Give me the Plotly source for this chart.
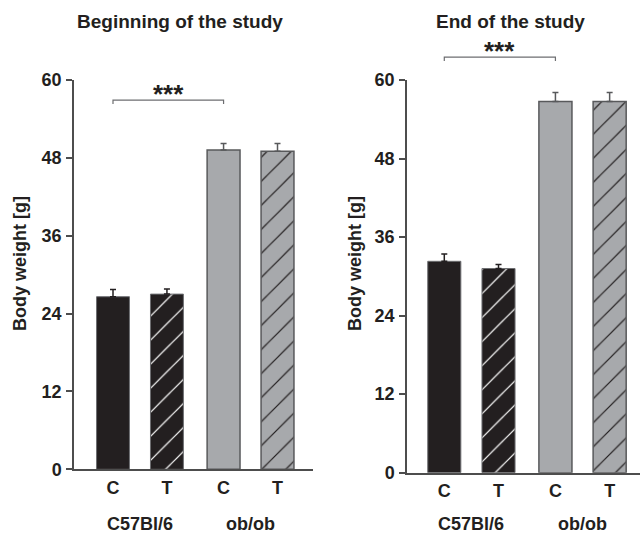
import plotly.graph_objects as go

# ---- data ----
bar_labels = ["C", "T", "C", "T"]
groups = ["C57Bl/6", "ob/ob"]
begin_mean = [26.6, 27.0, 49.2, 49.0]
begin_err = [1.1, 0.8, 1.0, 1.2]
end_mean = [32.3, 31.2, 56.7, 56.7]
end_err = [1.1, 0.6, 1.4, 1.4]
y_ticks = [0, 12, 24, 36, 48, 60]
sig_text = "***"
sig_begin = 56.9
sig_end = 63.5
titles = ["Beginning of the study", "End of the study"]
y_title = "Body weight [g]"

# ---- layout helpers ----
W, H = 641, 533
xpos = [0, 1, 2.05, 3.05]
BLACK = "#231f20"
GRAY = "#a7a9ac"
EDGE = "#58595b"
AX = "#4d4d4d"
FONT = "Liberation Sans, Arial, sans-serif"

panels = [
    dict(mean=begin_mean, err=begin_err, xd=[74 / W, 313 / W], yd=[1 - 469.3 / H, 1 - 80 / H],
         xr=[-0.723, 3.708], sig=sig_begin, title_x=179.5, ytitle_x=20),
    dict(mean=end_mean, err=end_err, xd=[407 / W, 640 / W], yd=[1 - 472.7 / H, 1 - 80 / H],
         xr=[-0.688, 3.61], sig=sig_end, title_x=510.5, ytitle_x=355),
]
yr = [0, 60]

fig = go.Figure()
shapes = []
annotations = []

def px_x(v, p):
    return p["xd"][0] + (v - p["xr"][0]) / (p["xr"][1] - p["xr"][0]) * (p["xd"][1] - p["xd"][0])

def px_y(v, p):
    return p["yd"][0] + (v - yr[0]) / (yr[1] - yr[0]) * (p["yd"][1] - p["yd"][0])

for i, p in enumerate(panels):
    xa = "x" if i == 0 else "x2"
    ya = "y" if i == 0 else "y2"
    fig.add_trace(go.Bar(
        x=xpos[:2], y=p["mean"][:2], width=0.61, xaxis=xa, yaxis=ya,
        marker=dict(color=BLACK, line=dict(color="#6d6e71", width=1),
                    pattern=dict(shape=["", "/"], fgcolor="white", bgcolor=BLACK,
                                 size=17, solidity=0.07, fillmode="replace")),
        error_y=dict(type="data", array=p["err"][:2], arrayminus=[0, 0], symmetric=False,
                     color=BLACK, thickness=1.5, width=3),
    ))
    fig.add_trace(go.Bar(
        x=xpos[2:], y=p["mean"][2:], width=0.61, xaxis=xa, yaxis=ya,
        marker=dict(color=GRAY, line=dict(color=EDGE, width=1.5),
                    pattern=dict(shape=["", "/"], fgcolor=BLACK, bgcolor=GRAY,
                                 size=17, solidity=0.07, fillmode="replace")),
        error_y=dict(type="data", array=p["err"][2:], arrayminus=[0, 0], symmetric=False,
                     color=EDGE, thickness=1.5, width=3),
    ))
    x0, x1 = px_x(xpos[0], p), px_x(xpos[2], p)
    yt = px_y(p["sig"], p)
    yb = yt - 4 / H
    shapes.append(dict(type="path", xref="paper", yref="paper",
                       path=f"M {x0},{yb} L {x0},{yt} L {x1},{yt} L {x1},{yb}",
                       line=dict(color="#6d6e71", width=1.2)))
    annotations.append(dict(text=f"<b>{sig_text}</b>", xref="paper", yref="paper",
                            x=(x0 + x1) / 2, y=yt + 23 / H, xanchor="center", yanchor="top",
                            showarrow=False, font=dict(family=FONT, size=26, color=BLACK)))
    annotations.append(dict(text=titles[i], xref="paper", yref="paper",
                            x=p["title_x"] / W, y=1 - 21 / H, xanchor="center", yanchor="middle",
                            showarrow=False, font=dict(family=FONT, size=19, color=BLACK, weight="bold")))
    annotations.append(dict(text=y_title, xref="paper", yref="paper", textangle=-90,
                            x=p["ytitle_x"] / W, y=1 - 264 / H, xanchor="center", yanchor="middle",
                            showarrow=False, font=dict(family=FONT, size=18, color=BLACK, weight="bold")))
    for g, (a, b) in zip(groups, [(0, 1), (2, 3)]):
        annotations.append(dict(text=g, xref="paper", yref="paper",
                                x=px_x((xpos[a] + xpos[b]) / 2, p), y=1 - 524 / H,
                                xanchor="center", yanchor="middle", showarrow=False,
                                font=dict(family=FONT, size=18, color=BLACK, weight="bold")))

axis_font = dict(family=FONT, size=18, color=BLACK, weight="bold")
for i, p in enumerate(panels):
    sfx = "" if i == 0 else "2"
    fig.update_layout(**{
        f"xaxis{sfx}": dict(domain=p["xd"], range=p["xr"], anchor=f"y{sfx}",
                            tickvals=xpos, ticktext=bar_labels, ticks="",
                            showline=True, linecolor=AX, linewidth=1.5, showgrid=False,
                            zeroline=False, tickfont=axis_font, ticklabelstandoff=1,
                            fixedrange=True, automargin=False),
        f"yaxis{sfx}": dict(domain=p["yd"], range=yr, anchor=f"x{sfx}",
                            tickvals=y_ticks, ticks="outside", ticklen=6, tickwidth=1.5,
                            tickcolor=AX, showline=True, linecolor=AX, linewidth=1.5,
                            showgrid=False, zeroline=False, tickfont=axis_font,
                            ticklabelstandoff=1, fixedrange=True, automargin=False),
    })

fig.update_layout(width=W, height=H, margin=dict(l=0, r=0, t=0, b=0, autoexpand=False),
                  paper_bgcolor="white", plot_bgcolor="white", showlegend=False,
                  barmode="overlay", shapes=shapes, annotations=annotations)

fig.write_html("out.html", config={"displayModeBar": False},
               post_script="document.body.style.margin='0';document.body.style.overflow='hidden';")
